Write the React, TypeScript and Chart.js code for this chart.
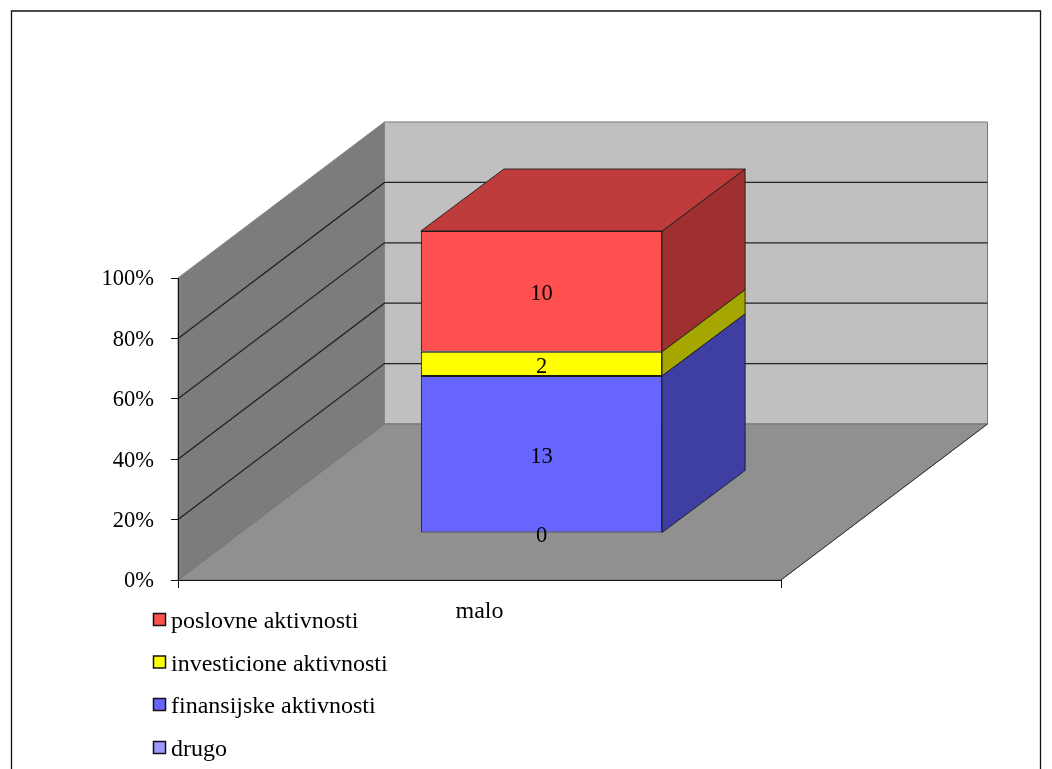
import React, { useEffect, useRef } from "react";
import { Chart, registerables } from "chart.js";

Chart.register(...registerables);

const categories = ["malo"];
const seriesNames = ["drugo", "finansijske aktivnosti", "investicione aktivnosti", "poslovne aktivnosti"];
const seriesValues = [[0], [13], [2], [10]];
const frontColors = ["#9999FF", "#6666FF", "#FFFF00", "#FF5050"];
const sideColors = ["#6060A0", "#3F3FA3", "#A6A600", "#A03030"];
const topColors = ["#7070C0", "#4C4CC0", "#C0C000", "#C03C3C"];
const yTicks = [0, 20, 40, 60, 80, 100];

const FONT = "'Liberation Serif', 'Times New Roman', serif";
const NUM_SIZE = 22.5;
const TEXT_SIZE = 24;
const DEPTH_X = 206.5;
const DEPTH_Y = -156;
const BAR_DX = 83;
const BAR_DY = -62;
const BAR_OFF_X = 62;
const BAR_OFF_Y = -47;
const EDGE = "#1c1c1c";

function poly(ctx: CanvasRenderingContext2D, pts: number[][], fill: string | null, stroke: string | null, lw = 1) {
  ctx.beginPath();
  pts.forEach((p, i) => (i ? ctx.lineTo(p[0], p[1]) : ctx.moveTo(p[0], p[1])));
  ctx.closePath();
  if (fill) {
    ctx.fillStyle = fill;
    ctx.fill();
  }
  if (stroke) {
    ctx.strokeStyle = stroke;
    ctx.lineWidth = lw;
    ctx.stroke();
  }
}

function line(ctx: CanvasRenderingContext2D, pts: number[][], stroke: string, lw = 1) {
  ctx.beginPath();
  pts.forEach((p, i) => (i ? ctx.lineTo(p[0], p[1]) : ctx.moveTo(p[0], p[1])));
  ctx.strokeStyle = stroke;
  ctx.lineWidth = lw;
  ctx.stroke();
}

const scene = {
  id: "scene",
  beforeDraw(chart: any) {
    const { ctx, chartArea: a, scales } = chart;
    ctx.save();
    line(ctx, [[11.5, 800], [11.5, 11], [1040.5, 11], [1040.5, 800]], "#111", 1.3);
    const L = a.left, R = a.right, T = a.top, B = a.bottom;
    const dx = DEPTH_X, dy = DEPTH_Y;
    poly(ctx, [[L + dx, T + dy], [R + dx, T + dy], [R + dx, B + dy], [L + dx, B + dy]], "#C0C0C0", "#777");
    poly(ctx, [[L, T], [L + dx, T + dy], [L + dx, B + dy], [L, B]], "#7C7C7C", "#858585");
    poly(ctx, [[L, B], [L + dx, B + dy], [R + dx, B + dy], [R, B]], "#909090", "#707070");
    line(ctx, [[R, B], [R + dx, B + dy]], "#333");
    yTicks.slice(1, -1).forEach((v) => {
      const y = scales.y.getPixelForValue(v);
      line(ctx, [[L, y], [L + dx, y + dy], [R + dx, y + dy]], "#222", 1.3);
    });
    ctx.restore();
  },
  beforeDatasetDraw(chart: any) {
    chart.ctx.save();
    chart.ctx.translate(BAR_OFF_X, BAR_OFF_Y);
  },
  afterDatasetDraw(chart: any, args: any) {
    const { ctx } = chart;
    const i = args.index;
    args.meta.data.forEach((el: any) => {
      const l = el.x - el.width / 2, r = el.x + el.width / 2;
      const t = Math.min(el.y, el.base), b = Math.max(el.y, el.base);
      if (b - t > 0.01) {
        poly(ctx, [[r, t], [r + BAR_DX, t + BAR_DY], [r + BAR_DX, b + BAR_DY], [r, b]], sideColors[i], EDGE, 0.9);
        if (i === seriesValues.length - 1) {
          poly(ctx, [[l, t], [l + BAR_DX, t + BAR_DY], [r + BAR_DX, t + BAR_DY], [r, t]], topColors[i], EDGE, 0.9);
        }
      }
    });
    ctx.restore();
  },
  afterDatasetsDraw(chart: any) {
    const { ctx } = chart;
    ctx.save();
    ctx.font = `${NUM_SIZE}px ${FONT}`;
    ctx.fillStyle = "#000";
    ctx.textAlign = "center";
    ctx.textBaseline = "middle";
    chart.getSortedVisibleDatasetMetas().forEach((meta: any) => {
      meta.data.forEach((el: any, j: number) => {
        const v = seriesValues[meta.index][j];
        ctx.fillText(String(v), el.x + BAR_OFF_X, (el.y + el.base) / 2 + BAR_OFF_Y + 3);
      });
    });
    // legend, top of the stack first
    ctx.font = `${TEXT_SIZE}px ${FONT}`;
    ctx.textAlign = "left";
    ctx.textBaseline = "alphabetic";
    const rows = [626, 668.5, 711, 754];
    [...seriesNames].reverse().forEach((name, k) => {
      const color = frontColors[seriesNames.length - 1 - k];
      const y = rows[k];
      ctx.fillStyle = color;
      ctx.fillRect(153.5, y - 12.5, 12, 12);
      ctx.strokeStyle = "#111";
      ctx.lineWidth = 1.5;
      ctx.strokeRect(153.5, y - 12.5, 12, 12);
      ctx.fillStyle = "#000";
      ctx.fillText(name, 171, y + 2);
    });
    ctx.restore();
  },
};

export default function App() {
  const ref = useRef<HTMLCanvasElement>(null);
  useEffect(() => {
    const totals = categories.map((_, j) => seriesValues.reduce((s, row) => s + row[j], 0));
    const chart = new Chart(ref.current!, {
      type: "bar",
      data: {
        labels: categories,
        datasets: seriesNames.map((label, i) => ({
          label,
          data: seriesValues[i].map((v, j) => (v / totals[j]) * 100),
          backgroundColor: frontColors[i],
          borderColor: EDGE,
          borderWidth: 1,
          borderSkipped: false,
          clip: false,
          barPercentage: 0.4,
          categoryPercentage: 1,
        })),
      } as any,
      options: {
        responsive: false,
        animation: false,
        events: [],
        layout: { padding: { left: 90, top: 278, right: 271, bottom: 139 } },
        plugins: { legend: { display: false }, tooltip: { enabled: false }, title: { display: false } },
        scales: {
          x: {
            stacked: true,
            afterFit: (s: any) => { s.height = 50; },
            border: { display: true, color: "#111", width: 1 },
            grid: { drawOnChartArea: false, drawTicks: true, tickLength: 8, color: "#111", offset: true },
            ticks: { color: "#000", padding: 9, font: { family: FONT, size: TEXT_SIZE }, maxRotation: 0 },
          },
          y: {
            stacked: true,
            min: 0,
            max: 100,
            afterFit: (s: any) => { s.width = 88; },
            afterBuildTicks: (s: any) => { s.ticks = yTicks.map((value) => ({ value })); },
            border: { display: true, color: "#111", width: 1 },
            grid: { drawOnChartArea: false, drawTicks: true, tickLength: 7, color: "#111" },
            ticks: { color: "#000", padding: 17, labelOffset: 1.5, font: { family: FONT, size: NUM_SIZE }, callback: (v: any) => `${v}%` },
          },
        },
      } as any,
      plugins: [scene],
    });
    return () => chart.destroy();
  }, []);
  return <canvas ref={ref} width={1052} height={769} style={{ position: "absolute", left: 0, top: 0, display: "block" }} />;
}
